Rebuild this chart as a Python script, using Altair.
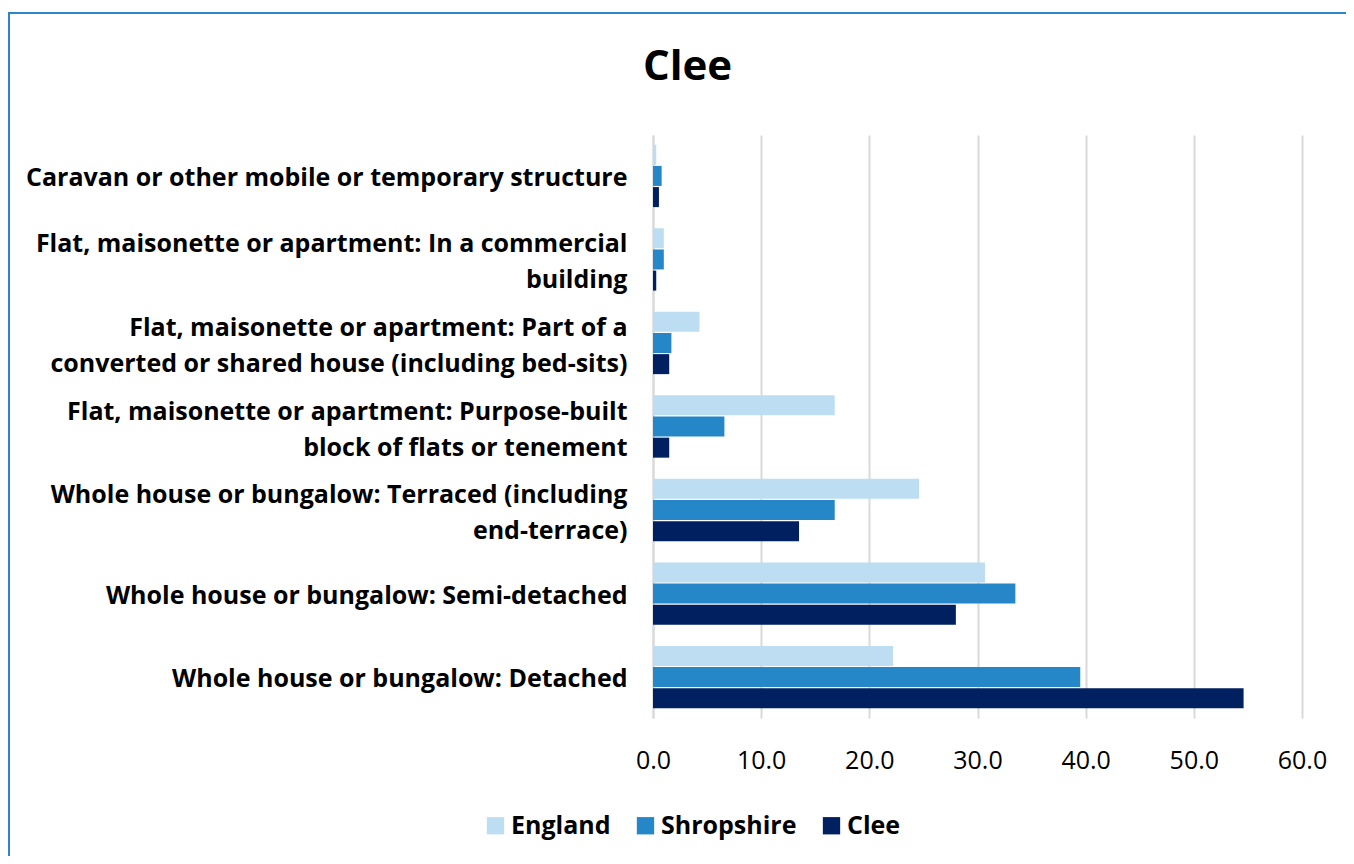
import altair as alt
import pandas as pd

categories = [
    "Caravan or other mobile or temporary structure",
    "Flat, maisonette or apartment: In a commercial|building",
    "Flat, maisonette or apartment: Part of a|converted or shared house (including bed-sits)",
    "Flat, maisonette or apartment: Purpose-built|block of flats or tenement",
    "Whole house or bungalow: Terraced (including|end-terrace)",
    "Whole house or bungalow: Semi-detached",
    "Whole house or bungalow: Detached",
]
series = ["England", "Shropshire", "Clee"]
england = [0.3, 1.0, 4.3, 16.8, 24.6, 30.7, 22.2]
shropshire = [0.8, 1.0, 1.7, 6.6, 16.8, 33.5, 39.5]
clee = [0.55, 0.3, 1.5, 1.5, 13.5, 28.0, 54.6]
colors = ["#bddef2", "#2587c7", "#002060"]

rows = []
for s, vals in zip(series, [england, shropshire, clee]):
    for c, v in zip(categories, vals):
        rows.append({"category": c, "series": s, "value": v})
df = pd.DataFrame(rows)

FONT = "Open Sans"

bars = alt.Chart(df).mark_bar(size=20).encode(
    y=alt.Y("category:N", sort=categories, title=None,
            scale=alt.Scale(paddingInner=0.24, paddingOuter=0.11),
            axis=alt.Axis(labelExpr="split(datum.label, '|')", labelFont=FONT,
                          labelFontWeight="bold", labelFontSize=25, labelColor="#000000",
                          labelPadding=26, labelLimit=700, labelLineHeight=36,
                          labelOffset=alt.condition("indexof(datum.value, '|') >= 0",
                                                    alt.value(-15), alt.value(2)),
                          ticks=False, domainColor="#d9d9d9", domainWidth=2, grid=False)),
    yOffset=alt.YOffset("series:N", sort=series),
    x=alt.X("value:Q", title=None, scale=alt.Scale(domain=[0, 60]),
            axis=alt.Axis(values=[0, 10, 20, 30, 40, 50, 60], format=".1f", labelFont=FONT,
                          labelFontSize=25, labelColor="#000000", labelPadding=30,
                          labelFlush=False,
                          ticks=False, domain=False, grid=True, gridColor="#d9d9d9",
                          gridWidth=2)),
    color=alt.Color("series:N", sort=series,
                    scale=alt.Scale(domain=series, range=colors),
                    legend=alt.Legend(title=None, orient="none", direction="horizontal",
                                      legendX=-170, legendY=678, symbolType="square",
                                      symbolSize=300, symbolStrokeWidth=0,
                                      labelFont=FONT, labelFontWeight="bold",
                                      labelFontSize=25, labelColor="#000000",
                                      columnPadding=22, labelOffset=3)),
)

border = alt.Chart(pd.DataFrame({"b": [0]})).mark_rect(
    fill=None, stroke="#2e86c8", strokeWidth=2
).encode(
    x=alt.value(-644), x2=alt.value(1360 - 653), y=alt.value(-122), y2=alt.value(900)
)

chart = alt.layer(border, bars).properties(
    width=649, height=583,
    padding={"left": 645, "top": 127, "right": 44, "bottom": 138},
    autosize=alt.AutoSizeParams(type="none"),
    title=alt.TitleParams("Clee", font=FONT, fontSize=42, fontWeight="bold",
                          color="#000000", anchor="middle", dx=-290, offset=0, dy=77),
).configure_view(stroke=None)

chart.save("out.html", embed_options={"renderer": "svg", "actions": False})
